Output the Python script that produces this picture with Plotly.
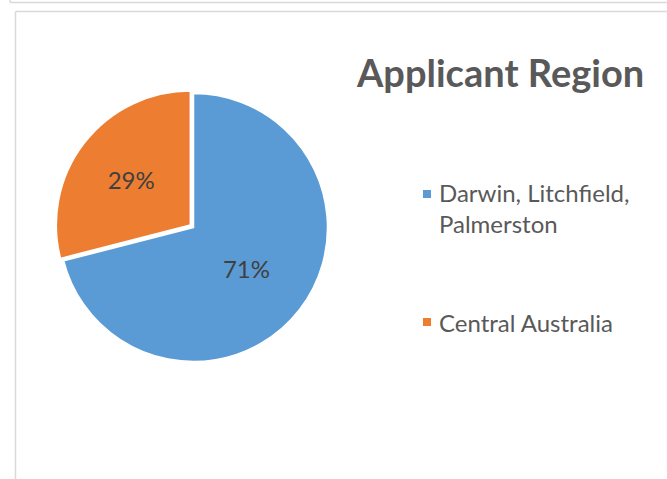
import plotly.graph_objects as go

W, H = 667, 479

labels = ["Darwin, Litchfield,<br>Palmerston", "Central Australia"]
values = [71, 29]
colors = ["#5B9BD5", "#ED7D31"]
pulls = [0, 0.03]
title_text = "Applicant Region"

def px(x):
    return x / W

def py(y):
    return 1 - y / H

cx, cy, r = 193.5, 227.5, 134
box = 2 * r * (1 + max(pulls))

fig = go.Figure()
fig.add_trace(go.Pie(
    labels=labels,
    values=values,
    marker=dict(colors=colors, line=dict(color="white", width=1.5)),
    pull=pulls,
    sort=False,
    direction="clockwise",
    rotation=0,
    texttemplate="%{percent:.0%}",
    textposition="inside",
    insidetextorientation="horizontal",
    textfont=dict(family="Lato", size=24, color="#404040"),
    showlegend=False,
    hoverinfo="label+percent",
    domain=dict(x=[px(cx - box / 2), px(cx + box / 2)],
                y=[py(cy + box / 2), py(cy - box / 2)]),
))

annotations = [dict(
    text="<b>" + title_text + "</b>", x=px(500), y=py(72), xref="paper", yref="paper",
    xanchor="center", yanchor="middle", showarrow=False,
    font=dict(family="Lato", size=38, color="#595959"),
)]

shapes = [
    # outer frame edge (top)
    dict(type="line", xref="paper", yref="paper", x0=px(10), x1=px(700), y0=py(2.5), y1=py(2.5),
         line=dict(color="#D9D9D9", width=1.5)),
    dict(type="line", xref="paper", yref="paper", x0=px(10), x1=px(10), y0=py(-5), y1=py(2.5),
         line=dict(color="#D9D9D9", width=1.5)),
    # inner chart frame
    dict(type="line", xref="paper", yref="paper", x0=px(15.5), x1=px(700), y0=py(11.5), y1=py(11.5),
         line=dict(color="#D9D9D9", width=1.5)),
    dict(type="line", xref="paper", yref="paper", x0=px(15.5), x1=px(15.5), y0=py(11.5), y1=py(500),
         line=dict(color="#D9D9D9", width=1.5)),
]

legend_marker_y = [194, 322]
legend_text_y = [208, 322]
for i, lab in enumerate(labels):
    my = legend_marker_y[i]
    shapes.append(dict(type="rect", xref="paper", yref="paper",
                       x0=px(423), x1=px(431), y0=py(my + 4), y1=py(my - 4),
                       fillcolor=colors[i], line=dict(width=0)))
    annotations.append(dict(
        text=lab, x=px(437), y=py(legend_text_y[i]), xref="paper", yref="paper",
        xanchor="left", yanchor="middle", align="left", showarrow=False,
        font=dict(family="Lato", size=24, color="#595959"),
    ))

fig.update_layout(
    width=W, height=H,
    margin=dict(l=0, r=0, t=0, b=0),
    paper_bgcolor="white",
    plot_bgcolor="white",
    annotations=annotations,
    shapes=shapes,
)

fig.write_html("out.html")
